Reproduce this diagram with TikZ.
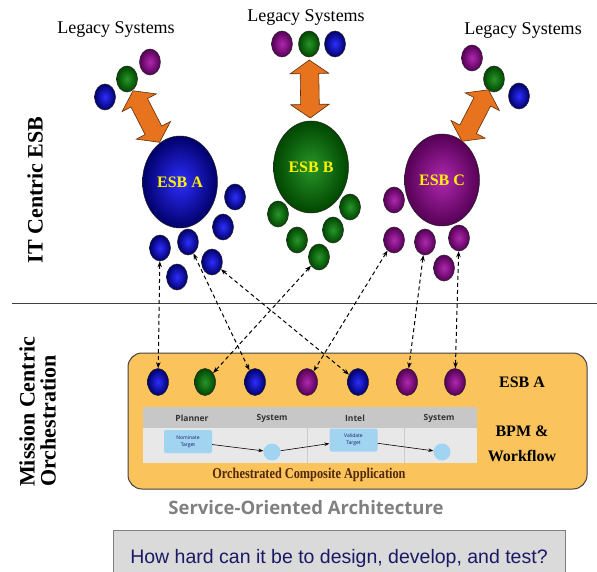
\documentclass[tikz,border=0pt]{standalone}
\usepackage{fontspec}
\setmainfont{Liberation Serif}
\newfontfamily\arialfont{Liberation Sans}
\newfontfamily\opensans{Open Sans}
\usetikzlibrary{shapes.geometric,shapes.arrows,arrows.meta}

\definecolor{ballblue}{RGB}{45,45,255}
\definecolor{ballbluedark}{RGB}{0,0,105}
\definecolor{ballgreen}{RGB}{40,150,40}
\definecolor{ballgreendark}{RGB}{0,70,0}
\definecolor{ballpurple}{RGB}{175,40,175}
\definecolor{ballpurpledark}{RGB}{85,0,85}
\definecolor{esborange}{RGB}{232,115,30}
\definecolor{orchfill}{RGB}{250,195,92}
\definecolor{taskblue}{RGB}{160,212,240}
\definecolor{askfill}{RGB}{218,218,218}
\definecolor{asktext}{RGB}{25,25,100}
\definecolor{orchtext}{RGB}{80,40,10}

\begin{document}
\begin{tikzpicture}[x=1pt, y=-1pt,
  sphere/.style={ellipse, draw=black!85, line width=0.5pt, inner sep=0pt, minimum width=21pt, minimum height=26pt, shading=radial},
  blueball/.style={sphere, inner color=ballblue, outer color=ballbluedark},
  greenball/.style={sphere, inner color=ballgreen, outer color=ballgreendark},
  purpleball/.style={sphere, inner color=ballpurple, outer color=ballpurpledark},
  esbball/.style={minimum width=75pt, minimum height=92pt, font=\fontsize{16}{18}\selectfont\bfseries, text=yellow},
  slot/.style={minimum height=27pt},
  legacy/.style={font=\fontsize{18}{20}\selectfont, anchor=base},
  bigarrow/.style={double arrow, sloped, pos=0.5, fill=esborange, draw=black!60!esborange, line width=0.6pt, inner xsep=0pt, inner ysep=9pt, text height=0pt, text depth=0pt, minimum height=58pt, double arrow head extend=10pt, double arrow tip angle=110},
  link/.style={dash pattern=on 4pt off 3pt, line width=1pt, {Stealth[length=6pt,width=4.5pt]}-{Stealth[length=6pt,width=4.5pt]}},
  flow/.style={line width=0.6pt, -{Stealth[length=5pt,width=3.5pt]}},
  task/.style={fill=taskblue, rounded corners=2pt, minimum width=48pt, minimum height=23pt, inner sep=0pt, align=center, text=asktext, font=\opensans\fontsize{5}{7}\selectfont},
  event/.style={circle, fill=taskblue, minimum size=17pt, inner sep=0pt},
  colhead/.style={font=\opensans\bfseries\fontsize{8.5}{10}\selectfont, text=black!80}]

  \useasboundingbox (0,0) rectangle (597,572);

  \node[legacy] (legA) at (116,34) {Legacy Systems};
  \node[legacy] (legB) at (306,22) {Legacy Systems};
  \node[legacy] (legC) at (523,35) {Legacy Systems};

  \node[blueball] (lA1) at (105,97) {};
  \node[greenball] (lA2) at (127,79) {};
  \node[purpleball] (lA3) at (150,62) {};
  \node[purpleball] (lB1) at (282,44) {};
  \node[greenball] (lB2) at (309,44) {};
  \node[blueball] (lB3) at (335,44) {};
  \node[purpleball] (lC1) at (472,58) {};
  \node[greenball] (lC2) at (494,79) {};
  \node[blueball] (lC3) at (519,96) {};

  \node[blueball, esbball] (esbA) at (180,182) {ESB A};
  \node[greenball, esbball] (esbB) at (311,167) {ESB B};
  \node[purpleball, esbball] (esbC) at (442,180) {ESB C};

  \path (lA2) -- (esbA) node[bigarrow] (arrA) {};
  \path (lB2) -- (esbB) node[bigarrow] (arrB) {};
  \path (lC2) -- (esbC) node[bigarrow] (arrC) {};

  \node[blueball] (a1) at (235,197) {};
  \node[blueball] (a2) at (223,227) {};
  \node[blueball] (a3) at (188,242) {};
  \node[blueball] (a4) at (160,248) {};
  \node[blueball] (a5) at (212,262) {};
  \node[blueball] (a6) at (177,277) {};

  \node[greenball] (b1) at (278,214) {};
  \node[greenball] (b2) at (297,240) {};
  \node[greenball] (b3) at (319,257) {};
  \node[greenball] (b4) at (333,230) {};
  \node[greenball] (b5) at (350,207) {};

  \node[purpleball] (c1) at (394,200) {};
  \node[purpleball] (c2) at (394,240) {};
  \node[purpleball] (c3) at (425,242) {};
  \node[purpleball] (c4) at (459,238) {};
  \node[purpleball] (c5) at (444,268) {};

  \node[rotate=90, font=\fontsize{22}{24}\selectfont\bfseries] (itlbl) at (35,190) {IT Centric ESB};
  \node[rotate=90, anchor=west, align=left, inner sep=0pt, font=\fontsize{22}{21}\selectfont\bfseries] (mclbl) at (37.5,487) {Mission Centric\\Orchestration};

  \draw[line width=0.9pt, black!75] (12,303) -- (597,303);

  \draw[fill=orchfill, draw=black!75, line width=1pt, rounded corners=14pt] (128,353) rectangle (587,489);

  \fill[black!22] (143,407) rectangle (477,428);
  \fill[black!9] (143,428) rectangle (477,463);
  \draw[black!20, line width=0.5pt] (307,428) -- (307,463) (404,428) -- (404,463);

  \node[colhead] (hPlan) at (192,418) {Planner};
  \node[colhead] (hSys1) at (272,418) {System};
  \node[colhead] (hIntel) at (355,418) {Intel};
  \node[colhead] (hSys2) at (439,418) {System};

  \node[task] (nom) at (188,441.5) {Nominate\\Target};
  \node[event] (ev1) at (272,452) {};
  \node[task] (val) at (353.5,440) {Validate\\Target};
  \node[event] (ev2) at (442,452) {};
  \draw[flow] (nom) -- (ev1);
  \draw[flow] (ev1) -- (val);
  \draw[flow] (val) -- (ev2);

  \node[blueball, slot] (o1) at (158,382) {};
  \node[greenball, slot] (o2) at (205,382) {};
  \node[blueball, slot] (o3) at (255,382) {};
  \node[purpleball, slot] (o4) at (307,382) {};
  \node[blueball, slot] (o5) at (358,382) {};
  \node[purpleball, slot] (o6) at (407,382) {};
  \node[purpleball, slot] (o7) at (455,382) {};

  \node[font=\fontsize{16}{18}\selectfont\bfseries] (esblbl) at (522,382) {ESB A};
  \node[align=center, font=\fontsize{16}{25}\selectfont\bfseries] (bpmlbl) at (522,444) {BPM \&\\Workflow};
  \node[text=orchtext] (orchlbl) at (309,475) {\scalebox{0.82}[1]{\fontsize{15}{17}\selectfont\bfseries Orchestrated Composite Application}};

  \node[font=\opensans\bfseries\fontsize{18.5}{20}\selectfont, text=black!50] (soa) at (306,508) {Service-Oriented Architecture};

  \fill[askfill] (113,530) rectangle (565,572);
  \draw[black!50, line width=0.8pt] (113,572) -- (113,530) -- (565,530) -- (565,572);
  \node[anchor=base, font=\arialfont\fontsize{19.5}{22}\selectfont, text=asktext] (ask) at (339,563) {How hard can it be to design, develop, and test?};

  \draw[link] (a4) -- (o1);
  \draw[link] (a3) -- (o3);
  \draw[link] (a5) -- (o5);
  \draw[link] (b3) -- (o2);
  \draw[link] (c2) -- (o4);
  \draw[link] (c3) -- (o6);
  \draw[link] (c4) -- (o7);
\end{tikzpicture}
\end{document}
